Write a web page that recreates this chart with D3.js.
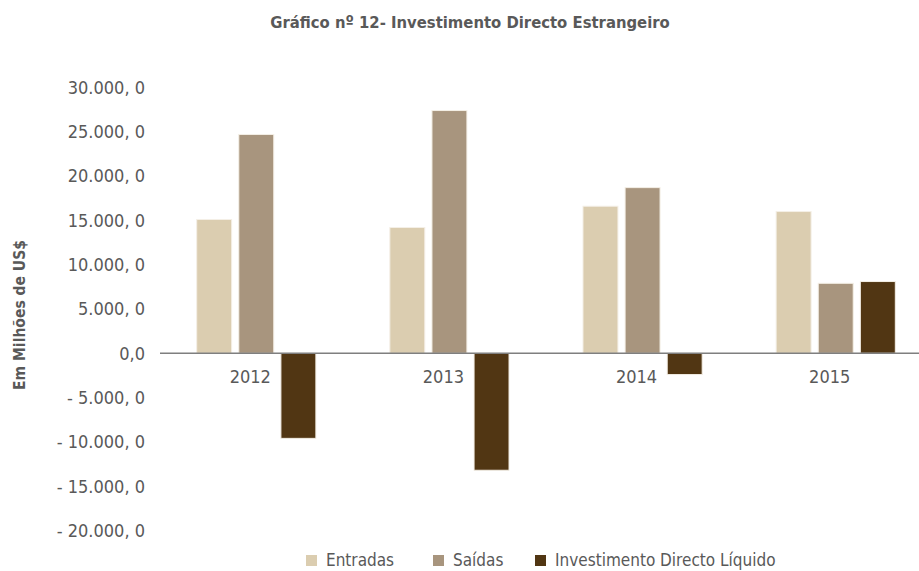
<!DOCTYPE html>
<html>
<head>
<meta charset="utf-8">
<script src="https://cdn.jsdelivr.net/npm/d3@7"></script>
<style>
  body { margin: 0; background: #fff; }
  text { font-family: "Liberation Sans Narrow", "DejaVu Sans Condensed", sans-serif; }
</style>
</head>
<body>
<div id="chart"></div>
<script>
// data (millions of US$)
var years = ["2012", "2013", "2014", "2015"];
var seriesNames = ["Entradas", "Saídas", "Investimento Directo Líquido"];
var entradas = [15100, 14200, 16600, 16000];
var saidas = [24700, 27400, 18700, 7900];
var liquido = [-9600, -13200, -2400, 8100];
var yTicks = [30000, 25000, 20000, 15000, 10000, 5000, 0, -5000, -10000, -15000, -20000];
var yTickLabels = ["30.000, 0", "25.000, 0", "20.000, 0", "15.000, 0", "10.000, 0", "5.000, 0", "0,0",
                   "- 5.000, 0", "- 10.000, 0", "- 15.000, 0", "- 20.000, 0"];
var colors = ["#dbcdb0", "#a8957e", "#513613"];

var width = 919, height = 571;

var svg = d3.select("#chart").append("svg")
  .attr("width", width)
  .attr("height", height);

var rows = [];
years.forEach(function(y, i) {
  rows.push({year: y, s: 0, v: entradas[i]});
  rows.push({year: y, s: 1, v: saidas[i]});
  rows.push({year: y, s: 2, v: liquido[i]});
});

//scales
var x0 = d3.scaleBand().domain(years).range([160, 932]).paddingInner(0.383).paddingOuter(0.19);
var x1 = d3.scaleBand().domain([0, 1, 2]).range([0, x0.bandwidth()]).paddingInner(0.17);
var y = d3.scaleLinear().domain([-20000, 30000]).range([530.5, 87.5]);

//title
svg.append("text")
  .attr("x", 470)
  .attr("y", 28)
  .attr("text-anchor", "middle")
  .style("font-size", "16.5px")
  .style("font-weight", "bold")
  .style("fill", "#595959")
  .text("Gráfico nº 12- Investimento Directo Estrangeiro");

//y axis labels (no line)
svg.append("g").selectAll("text")
  .data(yTicks)
  .enter().append("text")
  .attr("x", 145)
  .attr("y", function(d) { return y(d); })
  .attr("dy", "0.35em")
  .attr("text-anchor", "end")
  .style("font-size", "18px")
  .style("fill", "#595959")
  .text(function(d, i) { return yTickLabels[i]; });

svg.append("text")
  .attr("transform", "translate(25," + 315 + ") rotate(-90)")
  .attr("text-anchor", "middle")
  .style("font-size", "15.5px")
  .style("font-weight", "bold")
  .style("fill", "#595959")
  .text("Em Milhões de US$");

//bars
svg.append("g").selectAll("rect")
  .data(rows)
  .enter().append("rect")
  .attr("x", function(d) { return x0(d.year) + x1(d.s); })
  .attr("width", x1.bandwidth())
  .attr("y", function(d) { return y(Math.max(0, d.v)); })
  .attr("height", function(d) { return Math.abs(y(d.v) - y(0)); })
  .attr("fill", function(d) { return colors[d.s]; })
  .attr("stroke", "#f4efe6")
  .attr("stroke-width", 1);

//zero line
svg.append("line")
  .attr("x1", 160).attr("x2", 919)
  .attr("y1", y(0)).attr("y2", y(0))
  .attr("stroke", "#7f7f7f")
  .attr("stroke-width", 1.5);

//category labels
svg.append("g").selectAll("text")
  .data(years)
  .enter().append("text")
  .attr("x", function(d) { return x0(d) + x0.bandwidth() / 2 - 6; })
  .attr("y", y(0) + 30)
  .attr("text-anchor", "middle")
  .style("font-size", "18px")
  .style("fill", "#595959")
  .text(function(d) { return d; });

//legend
var legendX = [306, 433, 535];
var lg = svg.append("g").selectAll("g")
  .data(seriesNames)
  .enter().append("g")
  .attr("transform", function(d, i) { return "translate(" + legendX[i] + ",555)"; });
lg.append("rect")
  .attr("width", 11).attr("height", 11)
  .attr("fill", function(d, i) { return colors[i]; });
lg.append("text")
  .attr("x", 20)
  .attr("y", 5.5)
  .attr("dy", "0.35em")
  .style("font-size", "17px")
  .style("fill", "#595959")
  .text(function(d) { return d; });
</script>
</body>
</html>
